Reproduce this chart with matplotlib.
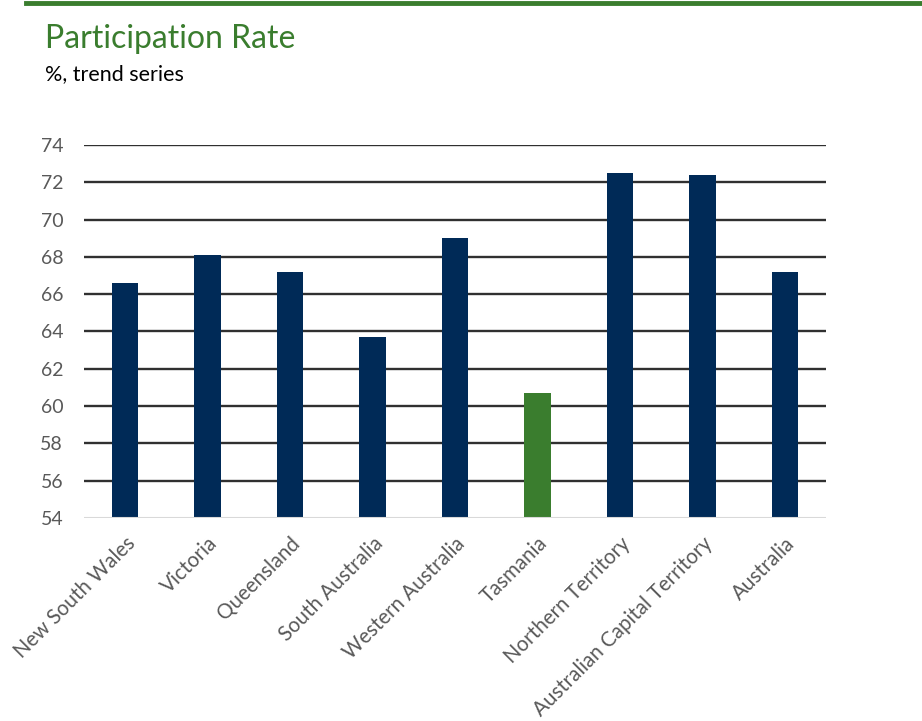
import numpy as np
import matplotlib
matplotlib.use('Agg')
import matplotlib.pyplot as plt
from matplotlib.lines import Line2D

# participation rate by state, trend series
states = ['New South Wales', 'Victoria', 'Queensland', 'South Australia',
          'Western Australia', 'Tasmania', 'Northern Territory',
          'Australian Capital Territory', 'Australia']
rates = [66.6, 68.1, 67.2, 63.7, 69.0, 60.7, 72.5, 72.4, 67.2]
highlight = 'Tasmania'
y_ticks = [54, 56, 58, 60, 62, 64, 66, 68, 70, 72, 74]

NAVY = '#002a57'
GREEN = '#3a7d2e'
GREY_TEXT = '#595959'

plt.rcParams['font.family'] = ['Lato', 'DejaVu Sans']

fig = plt.figure(figsize=(9.22, 7.21), dpi=100)
ax = fig.add_axes([0.0911, 0.2816, 0.8048, 0.5173])

x = np.arange(len(states))
colors = [GREEN if s == highlight else NAVY for s in states]
ax.bar(x, rates, width=0.32, color=colors, zorder=3)

ax.set_ylim(54, 74)
ax.set_xlim(-0.5, len(states) - 0.5)
ax.set_yticks(y_ticks)
ax.set_yticklabels([str(t) for t in y_ticks], fontsize=14, color=GREY_TEXT)
for t in y_ticks[1:]:
    ax.axhline(t, color='#303030', linewidth=1.7, zorder=1)
ax.axhline(54, color='#d9d9d9', linewidth=1.5, zorder=4)

ax.set_xticks(x)
ax.set_xticklabels(states, rotation=45, ha='right', rotation_mode='anchor',
                   fontsize=14.8, color=GREY_TEXT)
ax.tick_params(axis='both', length=0)
ax.tick_params(axis='x', pad=11)
ax.tick_params(axis='y', pad=15)
for side in ['top', 'right', 'left', 'bottom']:
    ax.spines[side].set_visible(False)

# header: green rule, title and subtitle
fig.add_artist(Line2D([26 / 922, 1.0], [1 - 3 / 721, 1 - 3 / 721],
                      color=GREEN, linewidth=3.5))
fig.text(45 / 922, 1 - 39 / 721, 'Participation Rate', color=GREEN,
         fontsize=23, va='center', ha='left')
fig.text(45 / 922, 1 - 74 / 721, '%, trend series', color='black',
         fontsize=15.5, va='center', ha='left')

fig.savefig('out.png', dpi=100, facecolor='white')
